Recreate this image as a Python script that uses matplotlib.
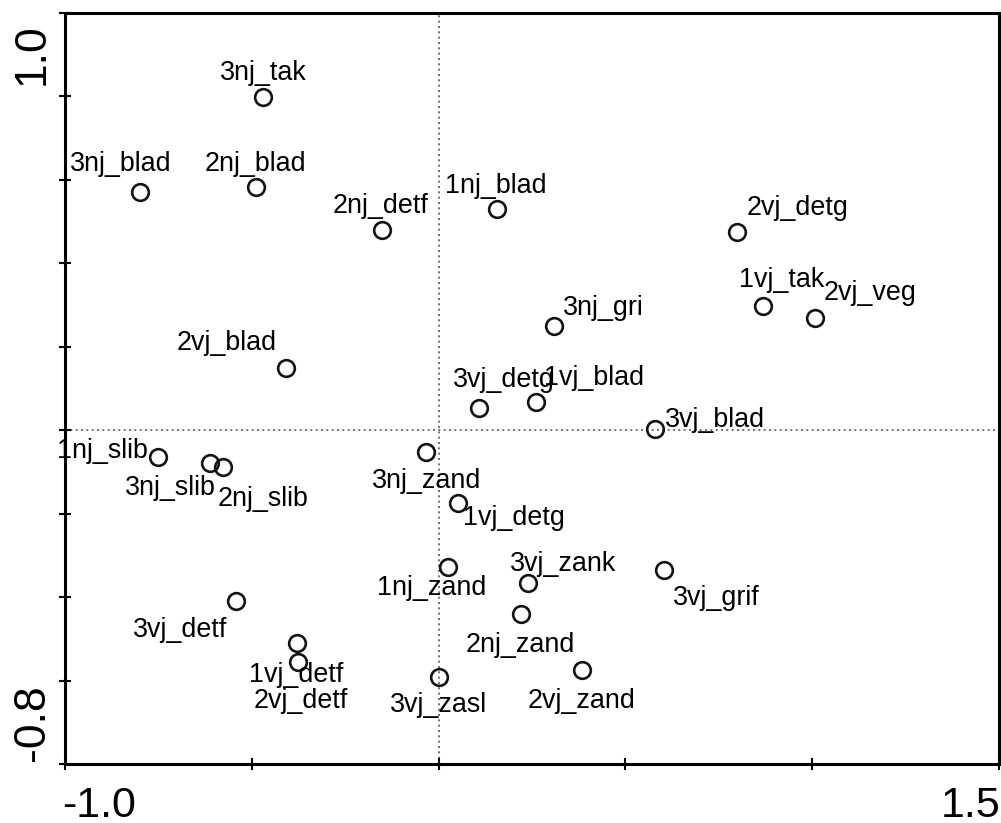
import matplotlib.pyplot as plt

# sample scores (axis 1, axis 2)
names = ['3nj_tak', '3nj_blad', '2nj_blad', '2nj_detf', '1nj_blad', '2vj_detg',
         '1vj_tak', '2vj_veg', '3nj_gri', '2vj_blad', '3vj_detg', '1vj_blad',
         '3vj_blad', '1nj_slib', '3nj_slib', '2nj_slib', '3nj_zand', '1vj_detg',
         '1nj_zand', '3vj_zank', '3vj_grif', '2nj_zand', '3vj_detf', '1vj_detf',
         '2vj_detf', '3vj_zasl', '2vj_zand']
axis1 = [-0.470, -0.799, -0.489, -0.152, 0.156, 0.799,
         0.868, 1.007, 0.309, -0.408, 0.108, 0.261,
         0.579, -0.751, -0.612, -0.577, -0.034, 0.052,
         0.025, 0.239, 0.603, 0.220, -0.542, -0.379,
         -0.376, 0.001, 0.384]
axis2 = [0.799, 0.571, 0.583, 0.480, 0.530, 0.475,
         0.298, 0.269, 0.249, 0.149, 0.053, 0.068,
         0.003, -0.064, -0.079, -0.088, -0.052, -0.174,
         -0.328, -0.366, -0.335, -0.440, -0.409, -0.510,
         -0.556, -0.591, -0.575]

# label offsets from the point, in pixels (left edge, baseline)
label_offsets = [(-43, 17), (-70, 21), (-51, 16), (-49, 17), (-52, 16), (10, 17),
                 (-24, 19), (9, 18), (9, 11), (-110, 18), (-26, 21), (8, 17),
                 (10, 2), (-101, -1), (-85, -32), (-5, -39), (-54, -36), (5, -22),
                 (-71, -28), (-18, 12), (9, -35), (-55, -38), (-103, -36), (-48, -39),
                 (-45, -46), (-49, -35), (-54, -38)]

plt.rcParams['font.family'] = ['Liberation Sans', 'DejaVu Sans']

fig = plt.figure(figsize=(10.01, 8.23), dpi=100)
ax = fig.add_axes([65 / 1001, (823 - 764) / 823, (999 - 65) / 1001, (764 - 13) / 823])

ax.axvline(0, color='#5a5a5a', lw=1.2, ls=(0, (1.2, 2.0)), zorder=1)
ax.axhline(0, color='#5a5a5a', lw=1.2, ls=(0, (1.2, 2.0)), zorder=1)

ax.plot(axis1, axis2, 'o', ms=12, mfc='none', mec='#141414', mew=1.9, zorder=3)

for name, x, y, off in zip(names, axis1, axis2, label_offsets):
    ax.annotate(name, (x, y), xytext=off, textcoords='offset pixels',
                ha='left', va='baseline', fontsize=19.4, color='black', zorder=4)

ax.set_xlim(-1.0, 1.5)
ax.set_ylim(-0.8, 1.0)
ax.set_xticks([-1.0, -0.5, 0.0, 0.5, 1.0, 1.5])
ax.set_yticks([-0.8, -0.6, -0.4, -0.2, 0.0, 0.2, 0.4, 0.6, 0.8, 1.0])
ax.set_xticklabels([])
ax.set_yticklabels([])
ax.tick_params(direction='inout', length=9, width=1.5, color='black')
for s in ax.spines.values():
    s.set_linewidth(2.2)

# end labels only, drawn inside the axis range
ax.annotate('-1.0', (-1.0, 0), xycoords=('data', 'axes fraction'), xytext=(-3, -22),
            textcoords='offset pixels', ha='left', va='top', fontsize=31)
ax.annotate('1.5', (1.5, 0), xycoords=('data', 'axes fraction'), xytext=(1, -22),
            textcoords='offset pixels', ha='right', va='top', fontsize=31)
ax.annotate('1.0', (0, 1.0), xycoords=('axes fraction', 'data'), xytext=(-53, -10),
            textcoords='offset pixels', ha='left', va='top', rotation=90, fontsize=32)
ax.annotate('-0.8', (0, -0.8), xycoords=('axes fraction', 'data'), xytext=(-53, 3),
            textcoords='offset pixels', ha='left', va='bottom', rotation=90, fontsize=32)

fig.savefig('out.png', dpi=100)
